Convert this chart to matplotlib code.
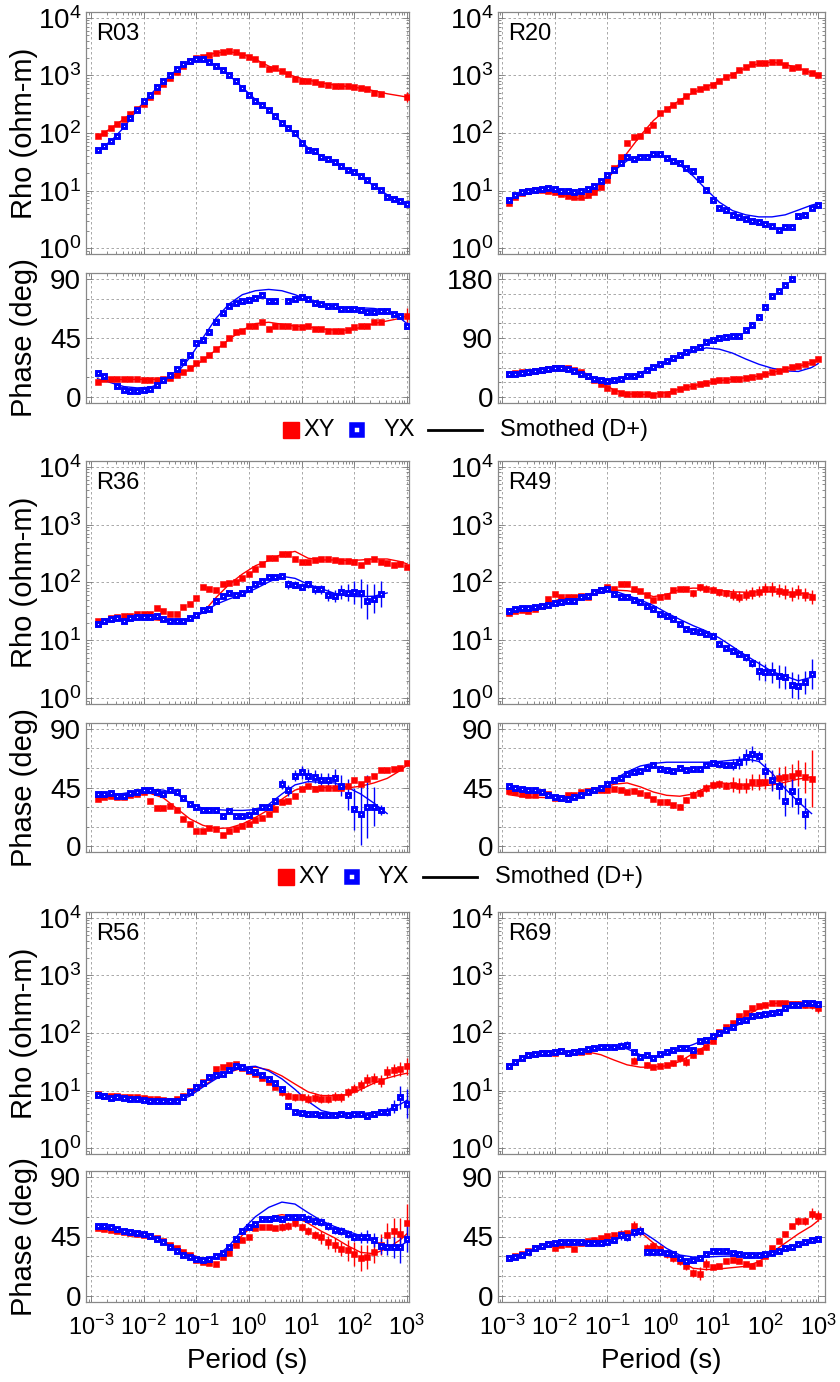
import numpy as np
import matplotlib
matplotlib.use('Agg')
import matplotlib.pyplot as plt
from matplotlib.lines import Line2D
from matplotlib.ticker import LogLocator, FixedLocator, NullFormatter, LogFormatterMathtext

plt.rcParams['font.family'] = ['Liberation Sans', 'DejaVu Sans']
plt.rcParams['mathtext.default'] = 'regular'

N = None

# periods (s), 8 per decade
periods = [0.00133, 0.00178, 0.00237, 0.00316, 0.00422, 0.00562, 0.0075, 0.01,
           0.0133, 0.0178, 0.0237, 0.0316, 0.0422, 0.0562, 0.075, 0.1,
           0.133, 0.178, 0.237, 0.316, 0.422, 0.562, 0.75, 1.0,
           1.33, 1.78, 2.37, 3.16, 4.22, 5.62, 7.5, 10,
           13.3, 17.8, 23.7, 31.6, 42.2, 56.2, 75, 100,
           133, 178, 237, 316, 422, 562, 750, 1000]
# smoothed (D+) responses are read at every other period plus the last one
fit_periods = periods[0:47:2] + [periods[47]]

# ---------------- R03 ----------------
r03_xy_rho = [87, 100, 120, 145, 175, 210, 260, 320, 420, 540, 700, 900, 1150, 1450, 1750, 2000,
              2100, 2300, 2450, 2550, 2600, 2550, 2300, 2100, 1900, 1550, 1300, 1350, 1180, 1050, 870, 810,
              810, 770, 720, 680, 660, 660, 650, 640, 600, 580, 500, 480, N, N, N, 420]
r03_yx_rho = [51, 59, 72, 90, 131, 182, 255, 355, 465, 630, 790, 1030, 1290, 1580, 1770, 1900,
              1900, 1720, 1450, 1230, 1000, 790, 610, 465, 365, 310, 255, 195, 150, 122, 100, 67,
              50, 48, 39, 35, 32, 27, 23, 21, 18, 15.5, 11.8, 10.3, 7.9, 7.1, 6.6, 5.9]
r03_xy_rho_fit = [85, 120, 175, 260, 420, 700, 1150, 1750, 2150, 2450, 2580, 2350, 1900, 1450, 1150,
                  950, 830, 740, 680, 640, 600, 540, 480, 440, 420]
r03_yx_rho_fit = [50, 72, 125, 250, 460, 780, 1250, 1700, 1850, 1500, 1000, 620, 380, 250, 150,
                  95, 55, 40, 31, 23, 17.5, 12, 8.5, 6.5, 5.8]
r03_xy_phase = [11.4, 13.4, 13.4, 14, 14, 13.4, 13.4, 13, 13, 12.7, 13.4, 14.7, 16.5, 19, 22.3, 25.9,
                29, 32, 36.8, 40.6, 44.9, 49.4, 50.7, 54.5, 54.5, 57.5, 52, 54.5, 54.5, 54, 53.7, 53.2,
                54, 52, 51.5, 50.7, 50.7, 50.7, 51.2, 53.2, 54, 54.5, 57, 57, N, N, N, 62]
r03_yx_phase = [18.3, 15.7, N, 8.1, 5.1, 4.3, 4.3, 5.1, 6.3, 8.9, 12.7, 16.5, 21.5, 27.1, 31.7, 41.1,
                43.6, 49.9, 57, 64.1, 69.7, 71.5, 73, 74, 75.5, 78, 73, 73.5, N, 73, 74.8, 76,
                74.8, 71.5, 71, 69.7, 69, 67.2, 67.2, 67, 66.7, 64.6, 64.6, 65.4, 65.4, 63.4, 62, 54.5]
r03_xy_phase_fit = [12, 13, 13.5, 13.5, 13.5, 13.5, 16, 21, 28, 36, 44, 51, 56, 57, 55.5, 54, 53.5,
                    52, 51, 51, 53, 56, 58, 60, 62]
r03_yx_phase_fit = [14, 11, 8, 7, 7.5, 11, 18, 30, 45, 60, 71, 78, 81, 82, 81, 78, 74, 71, 69, 68,
                    68, 67.5, 66, 60, 56]
r03_xy_rho_err = [0] * 47 + [0.08]
r03_xy_phase_err = [0] * 47 + [6]
r03_yx_phase_err = [0] * 47 + [3]

# ---------------- R20 ----------------
r20_xy_rho = [6.0, 7.9, 9.1, 9.7, 10.3, 10.3, 10, 9.3, 8.7, 8.1, 7.9, 7.9, 8.4, 9.3, 11.5, 15.5,
              24.7, 39, 67, 85, 89, 114, 139, 222, 256, 312, 365, 435, 530, 585, 630, 690,
              790, 940, 1030, 1260, 1390, 1580, 1650, 1650, 1700, 1700, 1490, 1350, 1380, 1180, 1100, 1000]
r20_yx_rho = [6.9, 8.5, 9.3, 10, 10.3, 10.7, 11, 10.7, 10, 9.7, 9.3, 9.7, 10.7, 12.1, 14.4, 18.4,
              23, 30, 39, 36, 38, 39, 44, 44, 37, 32.5, 30, 24.7, 21.5, 15.8, 10.3, 7.0,
              4.9, 4.7, 3.8, 3.5, 3.2, 3.0, 2.8, 2.65, 2.45, 2.1, 2.3, 2.35, 3.6, 3.8, 4.9, 5.6]
r20_xy_rho_fit = [6.5, 9.2, 10, 9.5, 8.5, 7.2, 7.5, 11, 22, 45, 90, 165, 260, 370, 500, 630, 800,
                  1050, 1350, 1600, 1700, 1550, 1350, 1100, 1000]
r20_yx_rho_fit = [6.5, 8.7, 10.2, 10.5, 9.8, 8.8, 9.5, 13.5, 22, 33, 40, 42, 38, 28, 18, 10.5, 6.3,
                  4.5, 3.8, 3.5, 3.5, 3.8, 4.6, 5.6, 6.0]
r20_xy_phase = [35, 36.6, 37.6, 38.6, 39.7, 41.2, 42.7, 43.7, 44.2, 43.7, 40.7, 37.6, 32.5, 26.4, 20.3, 13.7,
                9.7, 6.1, 4.6, 4.6, 4.6, 4.1, 3.6, 4.6, 5.1, 9.7, 12.7, 14.7, 17.3, 19.3, 21.4, 23.9,
                25.4, 26.4, 27.5, 28, 29, 30.5, 32.5, 35, 37.6, 40.2, 43.2, 45.8, 47.8, 49.8, 52.9, 58]
r20_yx_phase = [35, 35.6, 36.6, 38.1, 39.7, 41.2, 42.7, 43.7, 44.2, 42.7, 39.2, 35, 31.5, 28, 25.4, 24.9,
                25.4, 27.5, 31.5, 31.5, 35.6, 40.7, 45.8, 50.3, 54.4, 59.5, 64.6, 68.1, 73.2, 76.3, 83.4, 87.5,
                90, 91.5, 92.5, 93.6, 102.7, 110.3, 122, 136.8, 153.6, 161.2, 171.4, 180, N, N, N, N]
r20_xy_phase_fit = [34, 36, 39, 42, 44, 43, 35, 22, 11, 5, 4, 4.5, 7, 12, 17, 21, 25, 27.5, 29.5,
                    32, 37, 43, 47, 52, 56]
r20_yx_phase_fit = [35, 37, 40, 43, 44, 41, 33, 27, 26, 30, 37, 46, 54, 62, 69, 75, 73, 67, 58,
                    50, 44, 40, 39, 45, 51]

# ---------------- R36 ----------------
r36_xy_rho = [22, 21.5, 24, 25, 26.3, 26.3, 28, 28, 28, 36.7, 32, 29, 29, 38, 43, 55,
              82, 76, 74, 95, 97, 104, 120, 139, 170, 208, 263, 266, 310, 310, 255, 224,
              224, 245, 252, 250, 245, 240, 233, 224, 204, 240, 255, 230, 215, 204, 210, 187]
r36_yx_rho = [19.5, 22, 23.5, 24.5, 22, 24.5, 25.2, 25.2, 25.2, 26.3, 23, 22, 21.5, 22, 24.5, 27.5,
              33, 34.5, 48, 59, 65, 61.5, 65, 76, 93, 107, 123, 126, 132, 93, 91, 84,
              93, 76, 76, 61.5, 59, 69, 67, 68, 65, 47, 52.5, 63, N, N, N, N]
r36_yx_rho_err = [0] * 28 + [0.04, 0.08, 0.06, 0.06, 0.06, 0.08, 0.08, 0.1, 0.1, 0.12, 0.15, 0.2,
                             0.25, 0.3, 0.25, 0.22] + [0] * 4
r36_xy_rho_fit = [21, 22, 22.5, 23, 23, 22, 21.5, 24, 30, 55, 93, 140, 195, 240, 310, 345, 263,
                  245, 245, 240, 245, 255, 255, 230, 210]
r36_yx_rho_fit = [20, 22, 23, 23.5, 23.5, 23, 22, 23, 30, 42, 52, 62, 78, 102, 128, 118, 93, 78,
                  65, 58, 57, 58, 66, N, N]
r36_xy_phase = [35.8, 37.6, 38.4, 37.6, 37.6, 39.4, 40.1, 41.4, 35, 29.4, 29.4, 30.9, 27.9, 21, 17.1, 11.5,
                11.5, 13.8, 13.3, 8.2, 12, 13.3, 15.1, 17.1, 19.7, 21.5, 24.8, 28.6, 33.8, 35, 38.1, 44,
                45.8, 44, 44.5, 44.7, 44.7, 44.7, 46.5, 50.4, 47.8, 51.7, 54.2, 58.6, 58.6, 59.3, 60, 63.7]
r36_yx_phase = [40.1, 40.1, 40.9, 38.1, 38.1, 40.9, 41.9, 42.7, 42.7, 41.4, 40.1, 42.7, 41.4, 36.8, 32.5, 29.9,
                27.9, 27.4, 27.4, 23.5, 26.6, 23.5, 23.5, 24, 26.6, 29.9, 29.9, 35, 47.8, 42.7, 54.2, 56.8,
                54.2, 53.4, 51.1, 50.4, 52.2, 46.5, 39.4, 28.6, 24.8, 30.4, 30.4, 27.9, N, N, N, N]
r36_yx_phase_err = [0] * 26 + [2, 2, 4, 4, 4, 5, 5, 5, 5, 6, 7, 8, 12, 16, 24, 24, 15, 4] + [0] * 4
r36_xy_phase_fit = [36, 37.5, 39, 40, 40.5, 37, 29, 21, 16, 13.5, 14, 17, 22, 28, 36, 43, 45.8, 45,
                    44.7, 44.7, 46, 48.5, 52, 58, 62]
r36_yx_phase_fit = [37.5, 39, 40.5, 42, 43.5, 43, 40, 33, 29, 28, 27.5, 27.4, 28, 32, 40, 47, 49.5,
                    49, 48.5, 45, 40, 33, 25, N, N]

# ---------------- R49 ----------------
r49_xy_rho = [29.5, 32.7, 34, 32.7, 34.8, 39.6, 52, 63.5, 55.5, 55.5, 55.5, 59.6, 57.2, 67.8, 74.6, 83,
              77.7, 95, 95, 77.7, 72.6, 62, 50, 57, 59.6, 74.6, 77.7, 77.7, 65.3, 83, 77.7, 74.6,
              67.8, 65.3, 62, 57, 62, 65.3, 69.8, 77.7, 77.7, 72.6, 67.8, 63.5, 67.8, 62, 55.5, N]
r49_xy_rho_err = [0] * 24 + [0.04] * 4 + [0.06] * 6 + [0.1] * 6 + [0.12] * 7 + [0]
r49_yx_rho = [32.7, 34.9, 35.9, 35.9, 37.3, 38.9, 41.5, 43.8, 45.6, 47.5, 48.7, 55.7, 59.6, 68, 74.6, 77.7,
              63.5, 57.1, 55.7, 50, 45.6, 39.9, 34.9, 28.6, 26.8, 23.4, 19.2, 15.7, 14.7, 13.8, 12.9, 12.1,
              8.6, 7.4, 6.6, 5.8, 5.1, 4.0, 3.0, 2.8, 2.8, 2.4, 2.3, 1.7, 1.6, 1.9, 2.6, N]
r49_yx_rho_err = [0] * 30 + [0.03] * 6 + [0.06] * 2 + [0.17, 0.15, 0.18, 0.2, 0.2, 0.22, 0.22, 0.2, 0.26] + [0]
r49_xy_rho_fit = [31, 34, 37, 45, 52, 57, 63, 70, 74, 72, 67, 57, 62, 76, 80, 79, 73, 69, 68, 69,
                  70, 68, 66, 62, N]
r49_yx_rho_fit = [33, 35, 37.5, 41, 44.5, 48.5, 57, 68, 72, 60, 50, 40, 30, 23, 18, 14.5, 11, 7.8,
                  5.5, 4, 2.9, 2.4, 2.0, 2.3, N]
r49_xy_phase = [42.2, 41.4, 40.1, 39.6, 39.4, 41.4, 40.1, 37.1, 37.1, 38.9, 39.6, 41.4, 42.2, 42.7, 43.2, 43.2,
                44, 43.2, 41.4, 42.2, 40.7, 39.6, 36.3, 33.8, 33.8, 31.2, 30.4, 35.5, 39.6, 40.9, 44.7, 47,
                47.8, 46.5, 47.3, 46.5, 46.5, 49.1, 49.1, 49.6, 50.4, 52.4, 53.4, 54.2, 56, 52.9, 51.7, N]
r49_xy_phase_err = [0] * 24 + [2] * 4 + [3] * 6 + [6] * 6 + [7, 8, 8, 9, 10, 12, 22] + [0]
r49_yx_phase = [45.8, 44.7, 44, 43.2, 42.7, 41.4, 39.4, 37.6, 37.1, 36.3, 37.6, 38.9, 41.4, 42.7, 44.7, 47.8,
                50.4, 52.2, 55, 56.8, 58, 60.1, 61.9, 59.3, 58.8, 58, 60.1, 58.6, 59.3, 59.3, 61.9, 63.7,
                63.2, 61.9, 62.6, 64.4, 68.3, 70.8, 68.8, 58, 50.4, 46.5, 35, 42.2, 35, 24.8, N, N]
r49_yx_phase_err = [0] * 28 + [2] * 6 + [4, 5, 6, 6, 4, 6, 8, 10, 12, 12, 10, 12] + [0] * 2
r49_xy_phase_fit = [39.5, 38, 37.5, 37.2, 37.2, 38, 41, 44, 47.5, 48.5, 45.5, 41.5, 39, 38.3, 40,
                    45, 48.5, 48, 46.5, 46, 47, 49, 51.5, 53, N]
r49_yx_phase_fit = [45, 43.5, 41.5, 39.5, 37.5, 37.5, 39.5, 44, 51, 57, 61.5, 63.5, 64.4, 64.4,
                    64.4, 64.4, 65, 66, 67, 65, 56, 44, 34, 25, N]

# ---------------- R56 ----------------
r56_xy_rho = [8.8, 8.2, 8.0, 8.0, 7.9, 7.7, 7.7, 7.4, 7.2, 7.2, 7.0, 6.7, 7.2, 8.0, 9.7, 11.5,
              14.1, 17.2, 23.3, 25.6, 27.4, 29.3, 24.6, 21.5, 19.6, 16.5, 14.1, 11.5, 9.4, 8.2, 7.7, 7.7,
              7.2, 7.5, 7.2, 7.2, 7.9, 7.7, 9.4, 10.8, 12.3, 15.4, 16.1, 14.6, 21, 22.4, 24, 26.3]
r56_xy_rho_err = [0] * 28 + [0.06] * 4 + [0.08] * 8 + [0.1] * 5 + [0.12, 0.12, 0.15]
r56_yx_rho = [8.5, 8.0, 7.4, 7.7, 7.5, 7.2, 7.2, 7.0, 6.7, 6.7, 6.6, 6.5, 6.7, 7.7, 9.4, 11.5,
              13.7, 17.2, 18.4, 19.6, 23, 26.3, 25.6, 22.4, 21, 18.4, 16.1, 13.7, 10.8, 5.5, 4.2, 4.1,
              3.95, 3.95, 3.8, 3.7, 3.8, 3.95, 3.8, 3.95, 3.95, 3.6, 3.95, 4.2, 4.3, 5.3, 7.7, 5.9]
r56_yx_rho_err = [0] * 40 + [0.05] * 4 + [0.08, 0.12, 0.2, 0.25]
r56_xy_rho_fit = [8.8, 8.2, 7.9, 7.6, 7.3, 7.0, 7.0, 8.5, 12, 16.5, 21, 24.5, 25.5, 23, 18, 13,
                  9.5, 8.2, 8.2, 8.5, 10.5, 13.5, 16.5, 19, 20]
r56_yx_rho_fit = [8.5, 7.8, 7.4, 7.1, 6.8, 6.6, 6.6, 8, 11.5, 16, 21, 25.5, 26.5, 22, 16, 10.5,
                  6.5, 4.5, 4.0, 3.9, 4.0, 4.2, 4.6, 5.8, 6.8]
r56_xy_phase = [51.5, 51, 50.2, 49.4, 48.7, 47.9, 47.2, 46.4, 45.4, 43.6, 41.3, 38.8, 36.3, 33.5, 30.7, 27.1,
                25.6, 24.6, 24.1, 29.2, 32.2, 38.8, 42.3, 44.9, 51.2, 52.5, 52, 51.5, 52.5, 53.2, 55, 52,
                49.4, 46.4, 44.4, 40.6, 38.5, 35.5, 34.7, 31.7, 28.6, 29.2, 33, 38.8, 46.4, 48.9, 46.9, 55.3]
r56_xy_phase_err = [0] * 28 + [3] * 6 + [5] * 4 + [8, 9, 10, 9, 8, 8, 9, 10, 12, 14]
r56_yx_phase = [53.2, 52.7, 52, 50.7, 49.4, 48.4, 47.4, 46.9, 45.6, 43.1, 40.6, 37.3, 34.2, 31.2, 29.2, 27.9,
                27.1, 27.9, 30.4, 32.2, 36.8, 43.1, 48.9, 52, 54.5, 58.3, 58.3, 58.8, 58.3, 60.1, 59.6, 59.6,
                58.3, 56.5, 55.8, 53.2, 49.9, 48.9, 46.9, 44.4, 44.4, 44.9, 42.3, 38, 37.3, 36.8, 37.3, 43.1]
r56_yx_phase_err = [0] * 32 + [3] * 8 + [4, 5, 5, 6, 6, 8, 12, 10]
r56_xy_phase_fit = [51, 49.5, 48.5, 47, 45.5, 41.5, 36.5, 31.5, 28.5, 28.5, 35, 46, 55, 59.5, 61.5,
                    60, 55, 49, 44, 38, 33, 32, 36, 42.5, 47]
r56_yx_phase_fit = [52, 50.5, 49, 47.5, 45.5, 41.5, 36, 31, 28.5, 29.5, 38, 50, 60, 67, 71, 69.5,
                    63, 57, 52.5, 49, 45.5, 41, 38, 38, 41]

# ---------------- R69 ----------------
r69_xy_rho = [26.8, 31.7, 36.1, 41.5, 42.6, 44.3, 44.3, 45.5, 48.7, 45.5, 46.2, 47.5, 48.7, N, N, N,
              N, N, N, 33, N, 27.7, 25.9, 26.7, 27.7, 29.6, 36.3, 31.7, 41.5, 48.7, 56.5, 73,
              106, 125, 149, 194, 222, 272, 291, 303, 333, 333, 333, 319, 319, 303, 303, 272]
r69_xy_rho_err = [0] * 19 + [0.06, 0, 0.05, 0.04, 0.04, 0.04, 0.05, 0.06, 0.08, 0.05, 0.05,
                             0.04, 0.04] + [0.03] * 12 + [0.05, 0.05, 0.06, 0.08]
r69_yx_rho = [26.8, 31.7, 37.3, 41.5, 43.2, 44.3, 44.3, 46.2, 48.7, 44.3, 47.5, 49.4, 52.1, 54.3, 56.5, 58,
              56.5, 60.4, 62.1, 47.5, 38.8, 41.5, 37.3, 42.6, 47.5, 50.7, 54.3, 55.7, 50.7, 73, 75.9, 90.3,
              99, 111, 125, 159, 170, 194, 208, 213, 222, 228, 272, 303, 303, 333, 333, 319]
r69_yx_rho_err = [0] * 16 + [0.03, 0.06, 0.06, 0.05, 0.05] + [0.03] * 27
r69_xy_rho_fit = [27, 37, 42.5, 45, 47, 49, 47, 42, 34, 28, 25.5, 25.5, 27, 32, 44, 60, 90, 140,
                  200, 265, 320, 345, 340, 320, 300]
r69_yx_rho_fit = [27, 37, 42.5, 44.5, 46, 48.5, 51.5, 55, 58, 53, 42, 39, 44, 52, 63, 78, 97, 125,
                  160, 200, 230, 265, 300, 305, 300]
r69_xy_phase = [29, 30.3, 31.5, 34, 36, 37.8, 39.1, 36.6, 38.6, 39.6, 35.3, 40.3, 41.6, 42.6, 44.1, 45.4,
                46.1, 46.6, 47.9, 52.9, 49.2, 36.6, 37.8, 35.3, 31.5, 29, 26.5, 22.7, 17.6, 16.9, 23.9, 21.9,
                22.7, 26.5, 27, 26.5, 23.9, 22.7, 25.2, 30.3, 36, 41.6, 46.6, 52.9, 56.7, 56.7, 62.3, 60.5]
r69_xy_phase_err = [0] * 19 + [4, 4, 3, 3, 3, 3, 3, 3, 3, 3, 5, 4] + [0] * 13 + [3, 3, 4, 4]
r69_yx_phase = [28.5, 29.5, 31, 33.5, 36, 37.8, 39.1, 40.3, 40.8, 41.1, 41.1, 40.8, 40.3, 40.3, 40.3, 41.1,
                42.1, 46.1, 44.6, 48.7, 49.2, 33.5, 33.5, 33.5, 32.8, 31.5, 29, 26.5, 27, 29, 31.5, 34,
                34, 34, 32.8, 31.5, 31, 31, 31, 32, 32.8, 34, 36, 37.1, 39.1, 41.1, 42.1, 42.9]
r69_yx_phase_err = [0] * 16 + [2, 4, 3, 4, 3] + [0] * 27
r69_xy_phase_fit = [29, 31.5, 34.5, 37.5, 39.5, 40.5, 41.5, 43, 45, 47, 48.5, 40, 32, 26.5, 21,
                    20, 20.5, 21.5, 22.5, 26, 33, 40, 47, 53, 57]
r69_yx_phase_fit = [28.5, 31, 35.5, 38.5, 40, 40.5, 40, 39.5, 41.5, 47, 49.5, 43, 36, 31, 29.5,
                    29.5, 30, 30.3, 30.3, 31, 32.5, 35, 37.5, 41, 42]

stations = [
    dict(name='R03', col=0, row=0, xy_rho=r03_xy_rho, yx_rho=r03_yx_rho,
         xy_rho_fit=r03_xy_rho_fit, yx_rho_fit=r03_yx_rho_fit,
         xy_ph=r03_xy_phase, yx_ph=r03_yx_phase,
         xy_ph_fit=r03_xy_phase_fit, yx_ph_fit=r03_yx_phase_fit,
         xy_rho_err=r03_xy_rho_err, xy_ph_err=r03_xy_phase_err, yx_ph_err=r03_yx_phase_err),
    dict(name='R20', col=1, row=0, xy_rho=r20_xy_rho, yx_rho=r20_yx_rho,
         xy_rho_fit=r20_xy_rho_fit, yx_rho_fit=r20_yx_rho_fit,
         xy_ph=r20_xy_phase, yx_ph=r20_yx_phase,
         xy_ph_fit=r20_xy_phase_fit, yx_ph_fit=r20_yx_phase_fit, ph_max=180),
    dict(name='R36', col=0, row=1, xy_rho=r36_xy_rho, yx_rho=r36_yx_rho,
         xy_rho_fit=r36_xy_rho_fit, yx_rho_fit=r36_yx_rho_fit,
         xy_ph=r36_xy_phase, yx_ph=r36_yx_phase,
         xy_ph_fit=r36_xy_phase_fit, yx_ph_fit=r36_yx_phase_fit,
         yx_rho_err=r36_yx_rho_err, yx_ph_err=r36_yx_phase_err),
    dict(name='R49', col=1, row=1, xy_rho=r49_xy_rho, yx_rho=r49_yx_rho,
         xy_rho_fit=r49_xy_rho_fit, yx_rho_fit=r49_yx_rho_fit,
         xy_ph=r49_xy_phase, yx_ph=r49_yx_phase,
         xy_ph_fit=r49_xy_phase_fit, yx_ph_fit=r49_yx_phase_fit,
         xy_rho_err=r49_xy_rho_err, yx_rho_err=r49_yx_rho_err,
         xy_ph_err=r49_xy_phase_err, yx_ph_err=r49_yx_phase_err),
    dict(name='R56', col=0, row=2, xy_rho=r56_xy_rho, yx_rho=r56_yx_rho,
         xy_rho_fit=r56_xy_rho_fit, yx_rho_fit=r56_yx_rho_fit,
         xy_ph=r56_xy_phase, yx_ph=r56_yx_phase,
         xy_ph_fit=r56_xy_phase_fit, yx_ph_fit=r56_yx_phase_fit,
         xy_rho_err=r56_xy_rho_err, yx_rho_err=r56_yx_rho_err,
         xy_ph_err=r56_xy_phase_err, yx_ph_err=r56_yx_phase_err),
    dict(name='R69', col=1, row=2, xy_rho=r69_xy_rho, yx_rho=r69_yx_rho,
         xy_rho_fit=r69_xy_rho_fit, yx_rho_fit=r69_yx_rho_fit,
         xy_ph=r69_xy_phase, yx_ph=r69_yx_phase,
         xy_ph_fit=r69_xy_phase_fit, yx_ph_fit=r69_yx_phase_fit,
         xy_rho_err=r69_xy_rho_err, yx_rho_err=r69_yx_rho_err,
         xy_ph_err=r69_xy_phase_err, yx_ph_err=r69_yx_phase_err),
]

# ---------------- layout (pixels) ----------------
W, H = 840, 1382
cols = [(86, 409), (498, 825)]
xlims = [(10 ** -3.095, 10 ** 3.04), (10 ** -3.076, 10 ** 3.13)]
rows = [(12, 254, 273, 403), (461, 704, 723, 852), (912, 1154, 1171, 1302)]

RED = '#ff0000'
BLUE = '#0000ff'
GRID = dict(color='#9a9a9a', linestyle=(0, (3, 3)), linewidth=0.6)

fig = plt.figure(figsize=(W / 100, H / 100), dpi=100)


def add_ax(left, top, right, bottom):
    return fig.add_axes([left / W, 1 - bottom / H, (right - left) / W, (bottom - top) / H])


def arr(values):
    return np.array([np.nan if v is None else v for v in values], dtype=float)


def style_axes(ax, col, bottom_labels):
    ax.set_xscale('log')
    ax.set_xlim(*xlims[col])
    ax.xaxis.set_major_locator(FixedLocator([1e-3, 1e-2, 1e-1, 1, 10, 100, 1000]))
    ax.xaxis.set_minor_locator(LogLocator(base=10, subs=np.arange(2, 10), numticks=20))
    ax.xaxis.set_minor_formatter(NullFormatter())
    if bottom_labels:
        ax.xaxis.set_major_formatter(LogFormatterMathtext())
    else:
        ax.xaxis.set_major_formatter(NullFormatter())
    ax.tick_params(which='both', direction='in', top=True, right=True, colors='#777777',
                   labelcolor='black', labelsize=20, width=0.6)
    ax.tick_params(axis='x', labelsize=17, pad=9)
    ax.tick_params(which='major', length=4)
    ax.tick_params(which='minor', length=2)
    for sp in ax.spines.values():
        sp.set_color('#888888')
        sp.set_linewidth(0.9)
    ax.set_axisbelow(True)


def rho_yerr(values, err):
    if err is None:
        return None
    e = np.array(err, dtype=float)
    return np.vstack([values - values / 10 ** e, values * 10 ** e - values])


def draw_series(ax, x, y, yerr, color, open_marker):
    if open_marker:
        kw = dict(marker='s', ms=3.2, mfc='white', mec=color, mew=2.1)
    else:
        kw = dict(marker='s', ms=4.8, mfc=color, mec=color, mew=0.4)
    ax.errorbar(x, y, yerr=yerr, ls='none', ecolor=color, elinewidth=1.0, capsize=0,
                zorder=4, **kw)


for st in stations:
    col, row = st['col'], st['row']
    left, right = cols[col]
    t_rho, b_rho, t_ph, b_ph = rows[row]
    x = np.array(periods)
    xf = np.array(fit_periods)

    # apparent resistivity
    ax = add_ax(left, t_rho, right, b_rho)
    style_axes(ax, col, False)
    ax.set_yscale('log')
    ax.set_ylim(10 ** -0.1, 10 ** 4.1)
    ax.yaxis.set_major_locator(FixedLocator([1, 10, 100, 1000, 10000]))
    ax.yaxis.set_major_formatter(LogFormatterMathtext())
    ax.yaxis.set_minor_locator(LogLocator(base=10, subs=np.arange(2, 10), numticks=20))
    ax.yaxis.set_minor_formatter(NullFormatter())
    ax.grid(True, which='major', **GRID)
    ax.plot(xf, arr(st['xy_rho_fit']), color=RED, lw=1.0, zorder=3)
    ax.plot(xf, arr(st['yx_rho_fit']), color=BLUE, lw=1.0, zorder=3)
    xy = arr(st['xy_rho'])
    yx = arr(st['yx_rho'])
    draw_series(ax, x, xy, rho_yerr(xy, st.get('xy_rho_err')), RED, False)
    draw_series(ax, x, yx, rho_yerr(yx, st.get('yx_rho_err')), BLUE, True)
    ax.text(0.03, 0.955, st['name'], transform=ax.transAxes, fontsize=17, va='top', ha='left')
    if col == 0:
        ax.set_ylabel('Rho (ohm-m)', fontsize=21)
        ax.yaxis.set_label_coords(-0.15, 0.5)

    # phase
    axp = add_ax(left, t_ph, right, b_ph)
    style_axes(axp, col, row == 2)
    pmax = st.get('ph_max', 90)
    pad = pmax * 0.05
    axp.set_ylim(-pad, pmax + pad)
    axp.yaxis.set_major_locator(FixedLocator([0, pmax / 2, pmax]))
    axp.yaxis.set_major_formatter(plt.FuncFormatter(lambda v, p: '%d' % round(v)))
    if pmax == 180:
        axp.yaxis.set_minor_locator(FixedLocator([22.5, 45, 67.5, 112.5, 135, 157.5]))
    else:
        axp.yaxis.set_minor_locator(FixedLocator([15, 30, 60, 75]))
    axp.grid(True, which='major', **GRID)
    axp.yaxis.grid(True, which='minor', **GRID)
    axp.plot(xf, arr(st['xy_ph_fit']), color=RED, lw=1.0, zorder=3)
    axp.plot(xf, arr(st['yx_ph_fit']), color=BLUE, lw=1.0, zorder=3)
    e1 = st.get('xy_ph_err')
    e2 = st.get('yx_ph_err')
    draw_series(axp, x, arr(st['xy_ph']), None if e1 is None else np.array(e1, float), RED, False)
    draw_series(axp, x, arr(st['yx_ph']), None if e2 is None else np.array(e2, float), BLUE, True)
    if col == 0:
        axp.set_ylabel('Phase (deg)', fontsize=21)
        axp.yaxis.set_label_coords(-0.15, 0.5)
    if row == 2:
        axp.set_xlabel('Period (s)', fontsize=20, labelpad=6)


def draw_legend(dx, ypix):
    yf = 1 - ypix / H

    def fx(px):
        return (px + dx) / W
    fig.add_artist(Line2D([fx(291)], [yf], transform=fig.transFigure, ls='none', marker='s',
                          ms=11, mfc=RED, mec=RED))
    fig.text(fx(303), yf, 'XY', fontsize=17, va='center', ha='left')
    fig.add_artist(Line2D([fx(357)], [yf], transform=fig.transFigure, ls='none', marker='s',
                          ms=7, mfc='white', mec=BLUE, mew=4))
    fig.text(fx(383), yf, 'YX', fontsize=17, va='center', ha='left')
    fig.add_artist(Line2D([fx(428), fx(482)], [yf, yf], transform=fig.transFigure,
                          color='black', lw=2))
    fig.text(fx(500), yf, 'Smothed (D+)', fontsize=17, va='center', ha='left')


draw_legend(0, 430)
draw_legend(-5, 877)

fig.savefig('out.png', dpi=100)
